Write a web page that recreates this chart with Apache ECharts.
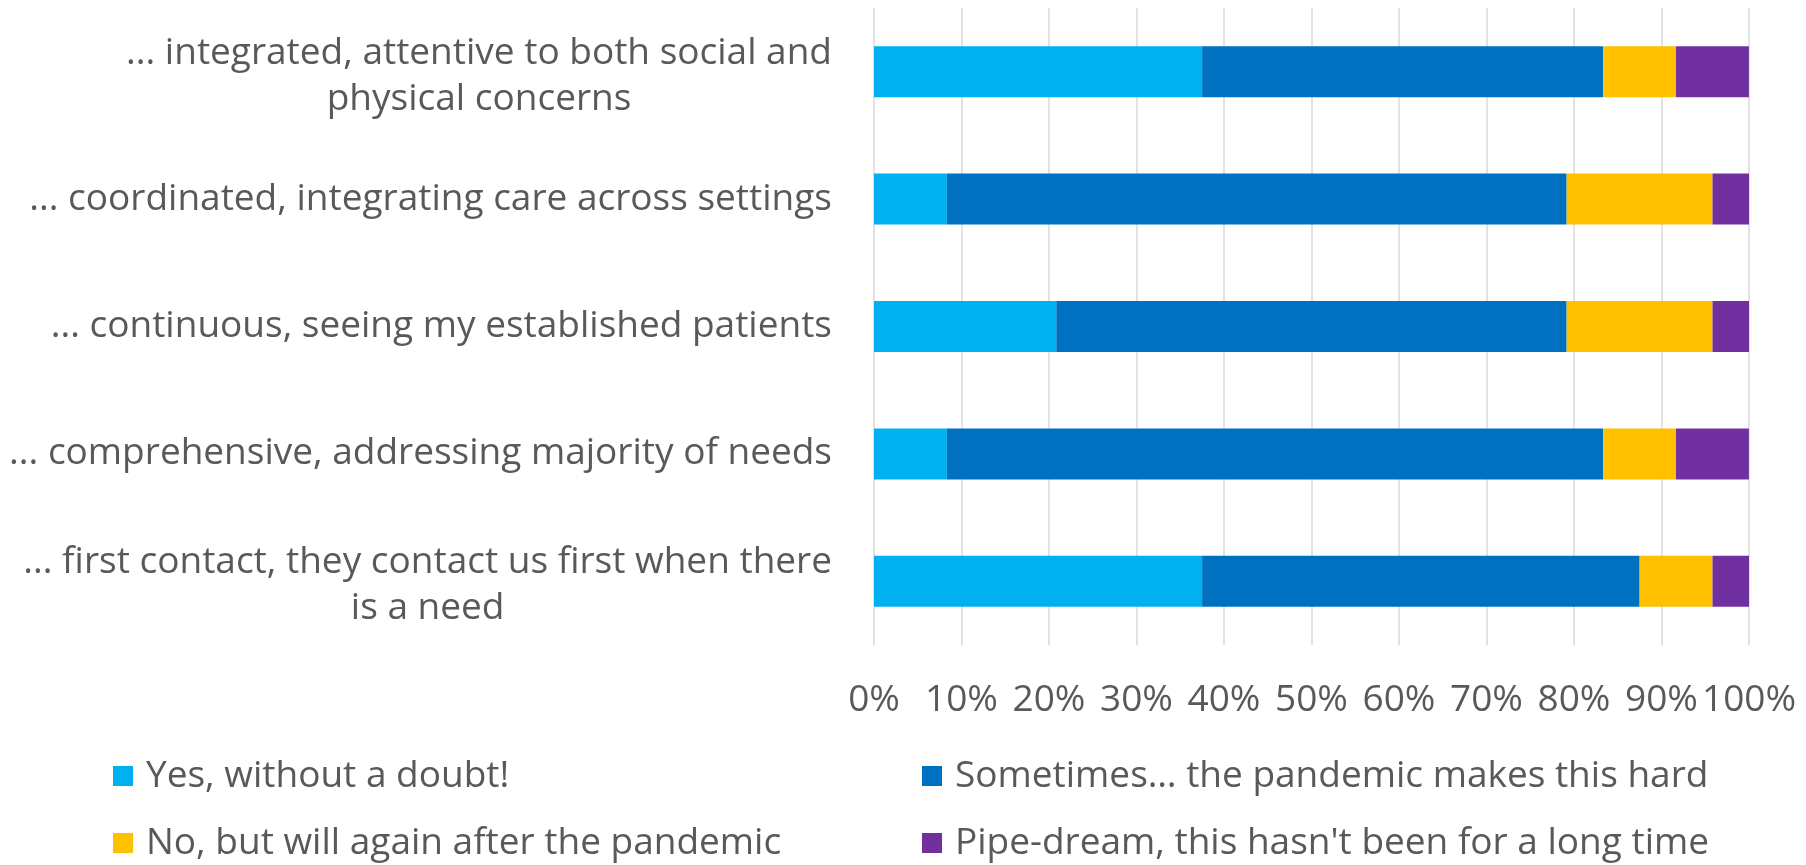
<!DOCTYPE html>
<html>
<head>
<meta charset="utf-8">
<script src="https://cdn.jsdelivr.net/npm/echarts@6/dist/echarts.min.js"></script>
<style>html,body{margin:0;padding:0;background:#fff;}#c{width:1806px;height:865px;}</style>
</head>
<body>
<div id="c"></div>
<script>
const categories = [
  "... integrated, attentive to both social and\nphysical concerns",
  "... coordinated, integrating care across settings",
  "... continuous, seeing my established patients",
  "... comprehensive, addressing majority of needs",
  "... first contact, they contact us first when there\nis a need"
];
const seriesNames = [
  "Yes, without a doubt!",
  "Sometimes\u2026 the pandemic makes this hard",
  "No, but will again after the pandemic",
  "Pipe-dream, this hasn't been for a long time"
];
const yesValues = [37.5, 8.33, 20.83, 8.33, 37.5];
const sometimesValues = [45.83, 70.83, 58.33, 75.0, 50.0];
const noValues = [8.33, 16.67, 16.67, 8.33, 8.33];
const pipeValues = [8.33, 4.17, 4.17, 8.33, 4.17];
const tickLabels = ["0%","10%","20%","30%","40%","50%","60%","70%","80%","90%","100%"];

const colors = ["#00B0F0", "#0070C0", "#FFC000", "#7030A0"];
const FONT = "Open Sans";
const FS = 37;
const TXT = "#595959";

const chart = echarts.init(document.getElementById('c'));
const allValues = [yesValues, sometimesValues, noValues, pipeValues];

function legendAt(name, left, top) {
  return {
    data: [name], left: left, top: top, orient: 'horizontal',
    icon: 'rect', itemWidth: 20, itemHeight: 20, padding: 0,
    selectedMode: false,
    textStyle: { fontFamily: FONT, fontSize: FS, color: TXT, lineHeight: 40, padding: [0, 0, 0, 8] }
  };
}

const yData = categories.map(c => c.indexOf('\n') >= 0
  ? { value: c, textStyle: { padding: [9, 0, 0, 0] } }
  : c);

chart.setOption({
  animation: false,
  color: colors,
  grid: { left: 874, right: 57, top: 8, bottom: 865 - 645, containLabel: false },
  legend: [
    legendAt(seriesNames[0], 113, 756),
    legendAt(seriesNames[1], 922, 756),
    legendAt(seriesNames[2], 113, 823),
    legendAt(seriesNames[3], 922, 823)
  ],
  xAxis: {
    type: 'value', min: 0, max: 100, interval: 10,
    axisLine: { show: false }, axisTick: { show: false },
    splitLine: { show: true, lineStyle: { color: '#D9D9D9', width: 1.5 } },
    axisLabel: {
      formatter: function (v) { return tickLabels[Math.round(v / 10)]; },
      fontFamily: FONT, fontSize: FS, color: TXT, margin: 37, lineHeight: FS
    }
  },
  yAxis: {
    type: 'category', inverse: true, data: yData,
    axisLine: { show: false }, axisTick: { show: false },
    axisLabel: {
      margin: 42, align: 'right',
      formatter: function (v) { return v.split('\n').map(s => '{c|' + s + '}').join('\n'); },
      rich: { c: { fontFamily: FONT, fontSize: FS, color: TXT, lineHeight: 46, align: 'center' } }
    }
  },
  series: allValues.map((vals, i) => ({
    name: seriesNames[i], type: 'bar', stack: 'total', data: vals,
    barWidth: '40%', itemStyle: { color: colors[i] }
  }))
});
</script>
</body>
</html>
